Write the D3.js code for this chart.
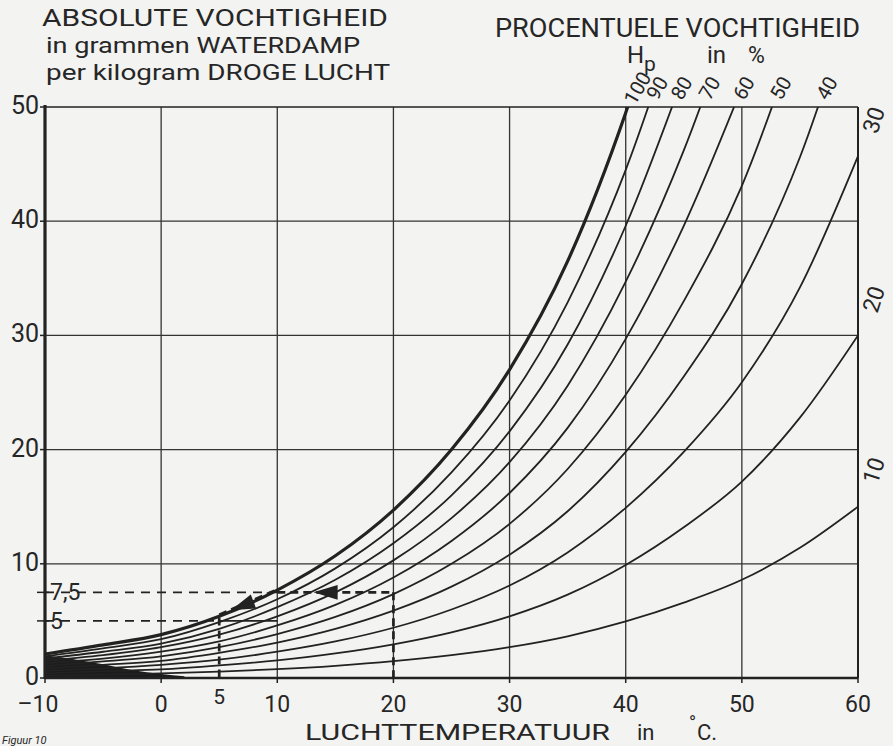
<!DOCTYPE html>
<html>
<head>
<meta charset="utf-8">
<script src="https://cdn.jsdelivr.net/npm/d3@7"></script>
<style>
  html, body { margin: 0; padding: 0; background: #f3f3f1; }
  svg { display: block; }
  text { font-family: Roboto, "DejaVu Sans", sans-serif; fill: #262626; }
</style>
</head>
<body>
<svg id="chart" width="893" height="746"></svg>
<script>
// ---------- data ----------
const temps = [-10, -5, 0, 5, 10, 15, 20, 25, 30, 35, 40, 45, 50, 55, 60];
const h100 = [2.1, 2.9, 3.8, 5.4, 7.7, 10.7, 14.7, 20.0, 27.0, 36.5, 49.5, 66];
const h90  = [1.9, 2.6, 3.4, 4.9, 6.9, 9.6, 13.2, 18.0, 24.3, 32.9, 44.5, 59.4];
const h80  = [1.7, 2.3, 3.0, 4.3, 6.2, 8.6, 11.8, 16.0, 21.6, 29.2, 39.6, 52.8];
const h70  = [1.5, 2.0, 2.7, 3.8, 5.4, 7.5, 10.3, 14.0, 18.9, 25.6, 34.7, 46.2, 60.3];
const h60  = [1.3, 1.7, 2.3, 3.2, 4.6, 6.4, 8.8, 12.0, 16.2, 21.9, 29.7, 39.6, 51.7];
const h50  = [1.05, 1.45, 1.9, 2.7, 3.85, 5.35, 7.35, 10.0, 13.5, 18.3, 24.8, 33.0, 43.1, 57];
const h40  = [0.85, 1.15, 1.5, 2.2, 3.1, 4.3, 5.9, 8.0, 10.8, 14.6, 19.8, 26.4, 34.5, 45.6, 60.8];
const h30  = [0.65, 0.85, 1.15, 1.6, 2.3, 3.2, 4.4, 6.0, 8.1, 11.0, 14.9, 19.8, 25.9, 34.2, 45.7];
const h20  = [0.4, 0.6, 0.75, 1.1, 1.55, 2.15, 2.95, 4.0, 5.4, 7.3, 9.9, 13.2, 17.2, 22.8, 30.0];
const h10  = [0.2, 0.3, 0.4, 0.55, 0.77, 1.07, 1.47, 2.0, 2.7, 3.65, 4.95, 6.6, 8.6, 11.4, 15.0];
const hpLevels = [100, 90, 80, 70, 60, 50, 40, 30, 20, 10];
const topLabelLevels = [100, 90, 80, 70, 60, 50, 40];
const sideLabelLevels = [30, 20, 10];

// ink blob in the lower-left corner of the print
const blobTemps = [-10, -7.5, -5, -2.5, 0, 2];
const blobTop   = [2.0, 1.65, 1.2, 0.7, 0.35, 0.15];

const xTicks = [-10, 0, 10, 20, 30, 40, 50, 60];
const yTicks = [0, 10, 20, 30, 40, 50];
const xGrid = [0, 10, 20, 30, 40, 50];
const yGrid = [10, 20, 30, 40];
const extraYLabels = [7.5, 5];
const extraYText = ["7,5", "5"];
const extraXLabel = 5;

// example construction lines
const guideT1 = [-10, 10, 20, -10, 5, 5, 5];
const guideV1 = [7.5, 7.5, 7.5, 5, 5, 5.3, 5.55];
const guideT2 = [10, 20, 20, 5, 10, 5, 10];
const guideV2 = [7.5, 7.5, 0, 5, 5, 0, 7.75];
const guideStyle = ["thin", "thick", "thick", "thin", "solid", "thick", "thick"];
// arrows: position and the point they aim at
const arrowT = [14.5, 7.3];
const arrowV = [7.5, 6.45];
const arrowDirT = [10, 5];
const arrowDirV = [7.5, 5.55];

// ---------- chart ----------
const svg = d3.select("#chart");
const x = d3.scaleLinear().domain([-10, 60]).range([45, 858]);
const y = d3.scaleLinear().domain([0, 50]).range([678, 107]);
const ink = "#222";

svg.append("defs").append("clipPath").attr("id", "plot")
  .append("rect").attr("x", x(-10)).attr("y", y(50))
  .attr("width", x(60) - x(-10)).attr("height", y(0) - y(50));

// grid
svg.append("g").selectAll("line").data(xGrid).join("line")
  .attr("x1", d => x(d)).attr("x2", d => x(d))
  .attr("y1", y(0)).attr("y2", y(50))
  .attr("stroke", "#333").attr("stroke-width", 1.3);
svg.append("g").selectAll("line").data(yGrid).join("line")
  .attr("x1", x(-10)).attr("x2", x(60))
  .attr("y1", d => y(d)).attr("y2", d => y(d))
  .attr("stroke", "#333").attr("stroke-width", 1.3);

// frame
svg.append("line").attr("x1", x(-10)).attr("x2", x(60)).attr("y1", y(50)).attr("y2", y(50))
  .attr("stroke", ink).attr("stroke-width", 1.6);
svg.append("line").attr("x1", x(60)).attr("x2", x(60)).attr("y1", y(50)).attr("y2", y(0))
  .attr("stroke", ink).attr("stroke-width", 2);

// blob
const plotG = svg.append("g").attr("clip-path", "url(#plot)");
plotG.append("path")
  .datum(blobTop)
  .attr("d", d3.area().x((d, i) => x(blobTemps[i])).y0(y(0)).y1(d => y(d)).curve(d3.curveMonotoneX))
  .attr("fill", "#1c1c1c");

// humidity curves
const series = [h100, h90, h80, h70, h60, h50, h40, h30, h20, h10];
const line = d3.line().x((d, i) => x(temps[i])).y(d => y(d)).curve(d3.curveMonotoneX);
plotG.selectAll("path.curve").data(series).join("path")
  .attr("class", "curve")
  .attr("d", d => line(d))
  .attr("fill", "none")
  .attr("stroke", ink)
  .attr("stroke-width", (d, i) => hpLevels[i] === 100 ? 3.2 : 1.8);

// guide lines
const guides = guideT1.map((t, i) => ({t1: t, v1: guideV1[i], t2: guideT2[i], v2: guideV2[i], s: guideStyle[i]}));
svg.append("g").selectAll("line").data(guides).join("line")
  .attr("x1", d => x(d.t1)).attr("y1", d => y(d.v1))
  .attr("x2", d => x(d.t2)).attr("y2", d => y(d.v2))
  .attr("stroke", ink)
  .attr("stroke-width", d => d.s === "thin" ? 1.6 : (d.s === "thick" ? 2.7 : 1.8))
  .attr("stroke-dasharray", d => d.s === "thin" ? "9,7" : (d.s === "thick" ? "8,5" : null));
// arrows
const arrows = arrowT.map((t, i) => {
  const dx = x(arrowDirT[i]) - x(t), dy = y(arrowDirV[i]) - y(arrowV[i]);
  return {px: x(t), py: y(arrowV[i]), ang: Math.atan2(dx, -dy) * 180 / Math.PI};
});
svg.append("g").selectAll("path").data(arrows).join("path")
  .attr("d", d3.symbol(d3.symbolTriangle, 150)())
  .attr("transform", d => `translate(${d.px},${d.py}) rotate(${d.ang}) scale(0.8,1.5)`)
  .attr("fill", ink);

// axes (thick left and bottom)
svg.append("line").attr("x1", x(-10)).attr("x2", x(-10)).attr("y1", y(50) - 2).attr("y2", y(0) + 1)
  .attr("stroke", ink).attr("stroke-width", 3.2);
svg.append("line").attr("x1", x(-10)).attr("x2", x(60)).attr("y1", y(0)).attr("y2", y(0))
  .attr("stroke", ink).attr("stroke-width", 2.6);

// ticks
svg.append("g").selectAll("line").data(xTicks).join("line")
  .attr("x1", d => x(d)).attr("x2", d => x(d)).attr("y1", y(0)).attr("y2", y(0) + 5)
  .attr("stroke", ink).attr("stroke-width", 1.5);
svg.append("g").selectAll("line").data(yTicks).join("line")
  .attr("x1", x(-10) - 5).attr("x2", x(-10)).attr("y1", d => y(d)).attr("y2", d => y(d))
  .attr("stroke", ink).attr("stroke-width", 1.5);
svg.append("g").selectAll("line").data(extraYLabels).join("line")
  .attr("x1", x(-10) - 8).attr("x2", x(-10) + 4).attr("y1", d => y(d)).attr("y2", d => y(d))
  .attr("stroke", ink).attr("stroke-width", 1.5);

// tick labels
svg.append("g").selectAll("text").data(yTicks).join("text")
  .attr("x", x(-10) - 6).attr("y", d => y(d) + 7)
  .attr("text-anchor", "end").attr("font-size", 25).text(d => d);
svg.append("g").selectAll("text").data(xTicks).join("text")
  .attr("x", d => x(d) + (d < 0 ? -7 : 0)).attr("y", y(0) + 34)
  .attr("text-anchor", "middle").attr("font-size", 23)
  .text(d => d < 0 ? "\u2013" + Math.abs(d) : d);
svg.append("text").attr("x", x(extraXLabel)).attr("y", y(0) + 26)
  .attr("text-anchor", "middle").attr("font-size", 21).text(extraXLabel);
svg.append("g").selectAll("text").data(extraYLabels).join("text")
  .attr("x", x(-10) + 5).attr("y", (d, i) => y(d) + 8)
  .attr("font-size", 23).text((d, i) => extraYText[i]);

// percentage labels at the top (end of each curve)
function crossing(vals, level) {
  for (let i = 1; i < vals.length; i++) {
    if (vals[i] >= level) {
      const f = (level - vals[i - 1]) / (vals[i] - vals[i - 1]);
      return temps[i - 1] + f * (temps[i] - temps[i - 1]);
    }
  }
  return 60;
}
svg.append("g").selectAll("text").data(topLabelLevels).join("text")
  .attr("transform", d => {
    const t = crossing(series[hpLevels.indexOf(d)], 50);
    return `translate(${x(t) + 10},${y(50) - 19}) rotate(-60)`;
  })
  .attr("text-anchor", "middle").attr("dominant-baseline", "central")
  .attr("font-size", 20).text(d => d);
svg.append("g").selectAll("text").data(sideLabelLevels).join("text")
  .attr("transform", d => {
    const vals = series[hpLevels.indexOf(d)];
    return `translate(${x(60) + 16},${y(vals[vals.length - 1]) - 36}) rotate(-72)`;
  })
  .attr("text-anchor", "middle").attr("dominant-baseline", "central")
  .attr("font-size", 23).text(d => d);

// titles
svg.append("text").attr("x", 42).attr("y", 26).attr("font-size", 24)
  .attr("textLength", 346).attr("lengthAdjust", "spacingAndGlyphs").text("ABSOLUTE VOCHTIGHEID");
svg.append("text").attr("x", 46).attr("y", 53).attr("font-size", 22)
  .attr("textLength", 314).attr("lengthAdjust", "spacingAndGlyphs").text("in grammen WATERDAMP");
svg.append("text").attr("x", 46).attr("y", 80).attr("font-size", 22)
  .attr("textLength", 344).attr("lengthAdjust", "spacingAndGlyphs").text("per kilogram DROGE LUCHT");

svg.append("text").attr("x", 495).attr("y", 37).attr("font-size", 26)
  .attr("textLength", 365).attr("lengthAdjust", "spacingAndGlyphs").text("PROCENTUELE VOCHTIGHEID");
svg.append("text").attr("x", 627).attr("y", 63).attr("font-size", 24).text("H");
svg.append("text").attr("x", 644).attr("y", 71).attr("font-size", 21).text("p");
svg.append("text").attr("x", 707).attr("y", 63).attr("font-size", 24).text("in");
svg.append("text").attr("x", 748).attr("y", 63).attr("font-size", 23).text("%");

svg.append("text").attr("x", 305).attr("y", 740).attr("font-size", 22)
  .attr("textLength", 305).attr("lengthAdjust", "spacingAndGlyphs").text("LUCHTTEMPERATUUR");
svg.append("text").attr("x", 637).attr("y", 740).attr("font-size", 22).text("in");
svg.append("text").attr("x", 689).attr("y", 729).attr("font-size", 19).text("\u00B0");
svg.append("text").attr("x", 697).attr("y", 740).attr("font-size", 22).text("C.");

svg.append("text").attr("x", 2).attr("y", 744).attr("font-size", 11)
  .attr("font-style", "italic").text("Figuur 10");
</script>
</body>
</html>
